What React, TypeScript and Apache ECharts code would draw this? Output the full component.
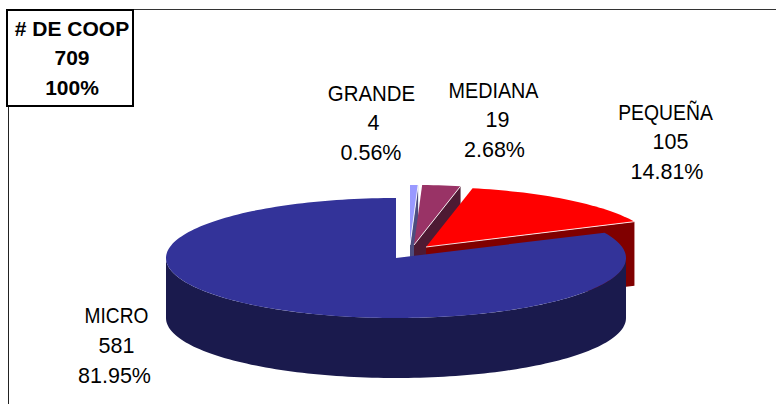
import React, { useEffect, useRef } from "react";
import * as echarts from "echarts";

// data, clockwise from twelve o'clock
const categories = ["GRANDE", "MEDIANA", "PEQUEÑA", "MICRO"];
const counts = [4, 19, 105, 581];
const totalLabel = ["# DE COOP", "709", "100%"];

// appearance
const topColors = ["#9999ff", "#993366", "#ff0000", "#333399"];
const sideColors = ["#4d4d80", "#4d1a33", "#800000", "#1a1a4d"];
const explodeX = [14, 18, 30, 0];
const explodeY = [-13, -13, -11, 0];
const depths = [60, 60, 64, 60];
const labelX = [371.5, 493.5, 665.5, 116.5];
const labelY = [93, 90, 112, 315.5];
const labelDx = [[0, 2, -0.5], [0, 4, 1], [0, 5, 1.5], [0, 0, -2]];
const nameScale = [0.95, 0.92, 0.9, 0.89];
const FONT = '"Liberation Sans", Arial, sans-serif';
const CX = 396, CY = 258, RX = 230, RY = 60, LINE = 30;

const total = counts.reduce((a, b) => a + b, 0);
const pt = (cx: number, cy: number, deg: number) => {
  const r = (deg * Math.PI) / 180;
  return [cx + RX * Math.sin(r), cy - RY * Math.cos(r)];
};
const arc = (cx: number, cy: number, from: number, to: number) => {
  const n = Math.max(2, Math.ceil((to - from) / 1.5));
  const pts: number[][] = [];
  for (let k = 0; k <= n; k++) pts.push(pt(cx, cy, from + ((to - from) * k) / n));
  return pts;
};

function renderItem(_: any, api: any) {
  const i = api.value(2);
  const a0 = (api.value(0) / total) * 360;
  const a1 = a0 + (api.value(1) / total) * 360;
  const cx = CX + explodeX[i], cy = CY + explodeY[i], d = depths[i];
  const [x1, y1] = pt(cx, cy, a1);
  const children: any[] = [];
  const poly = (points: number[][], fill: string) => ({
    type: "polygon",
    shape: { points },
    style: { fill, stroke: "none" },
  });
  // outer wall: the part of the rim that faces the viewer
  const w0 = Math.max(a0, 90), w1 = Math.min(a1, 270);
  if (w1 > w0) {
    const rim = arc(cx, cy, w0, w1);
    const low = rim.map(([x, y]) => [x, y + d]).reverse();
    children.push(poly([...rim, ...low], sideColors[i]));
  }
  // cut face on the trailing edge when it faces the viewer
  const hasFace = Math.sin((a1 * Math.PI) / 180) > 1e-6;
  if (hasFace) {
    children.push(poly([[cx, cy], [x1, y1], [x1, y1 + d], [cx, cy + d]], sideColors[i]));
  }
  children.push(poly([[cx, cy], ...arc(cx, cy, a0, a1)], topColors[i]));
  if (hasFace) {
    children.push({
      type: "line",
      shape: { x1: cx, y1: cy, x2: x1, y2: y1 },
      style: { stroke: "#ffffff", lineWidth: 1, opacity: 0.85 },
    });
  }
  return { type: "group", children };
}

const starts = counts.map((_, i) => counts.slice(0, i).reduce((a, b) => a + b, 0));

function labelGraphics() {
  const out: any[] = [];
  categories.forEach((name, i) => {
    const pct = ((counts[i] / total) * 100).toFixed(2) + "%";
    [name, String(counts[i]), pct].forEach((text, k) => {
      out.push({
        type: "text",
        x: labelX[i] + labelDx[i][k],
        y: labelY[i] + k * LINE,
        scaleX: k === 0 ? nameScale[i] : 1,
        style: { text, font: `21.5px ${FONT}`, fill: "#000000", align: "center", verticalAlign: "middle" },
      });
    });
  });
  return out;
}

export default function App() {
  const ref = useRef<HTMLDivElement>(null);
  useEffect(() => {
    document.body.style.margin = "0";
    const chart = echarts.init(ref.current!, undefined, { renderer: "svg" });
    chart.setOption({
      animation: false,
      backgroundColor: "#ffffff",
      series: [
        {
          type: "custom",
          coordinateSystem: "none",
          renderItem,
          silent: true,
          data: counts.map((v, i) => [starts[i], v, i]),
        },
      ],
      graphic: [
        { type: "line", z: 10, shape: { x1: 8, y1: 9.5, x2: 776, y2: 9.5 }, style: { stroke: "#333333", lineWidth: 1 } },
        { type: "line", z: 10, shape: { x1: 8.5, y1: 9, x2: 8.5, y2: 404 }, style: { stroke: "#222222", lineWidth: 1 } },
        { type: "rect", z: 11, shape: { x: 7, y: 10, width: 126, height: 96 }, style: { fill: "#ffffff", stroke: "#000000", lineWidth: 2 } },
        ...totalLabel.map((text, k) => ({
          type: "text",
          z: 12,
          x: 72,
          y: 28 + k * 29.5,
          style: { text, font: `bold 21px ${FONT}`, fill: "#000000", align: "center", verticalAlign: "middle" },
        })),
        ...labelGraphics().map((g) => ({ ...g, z: 12 })),
      ],
    });
    return () => chart.dispose();
  }, []);
  return <div ref={ref} style={{ width: 776, height: 404 }} />;
}
